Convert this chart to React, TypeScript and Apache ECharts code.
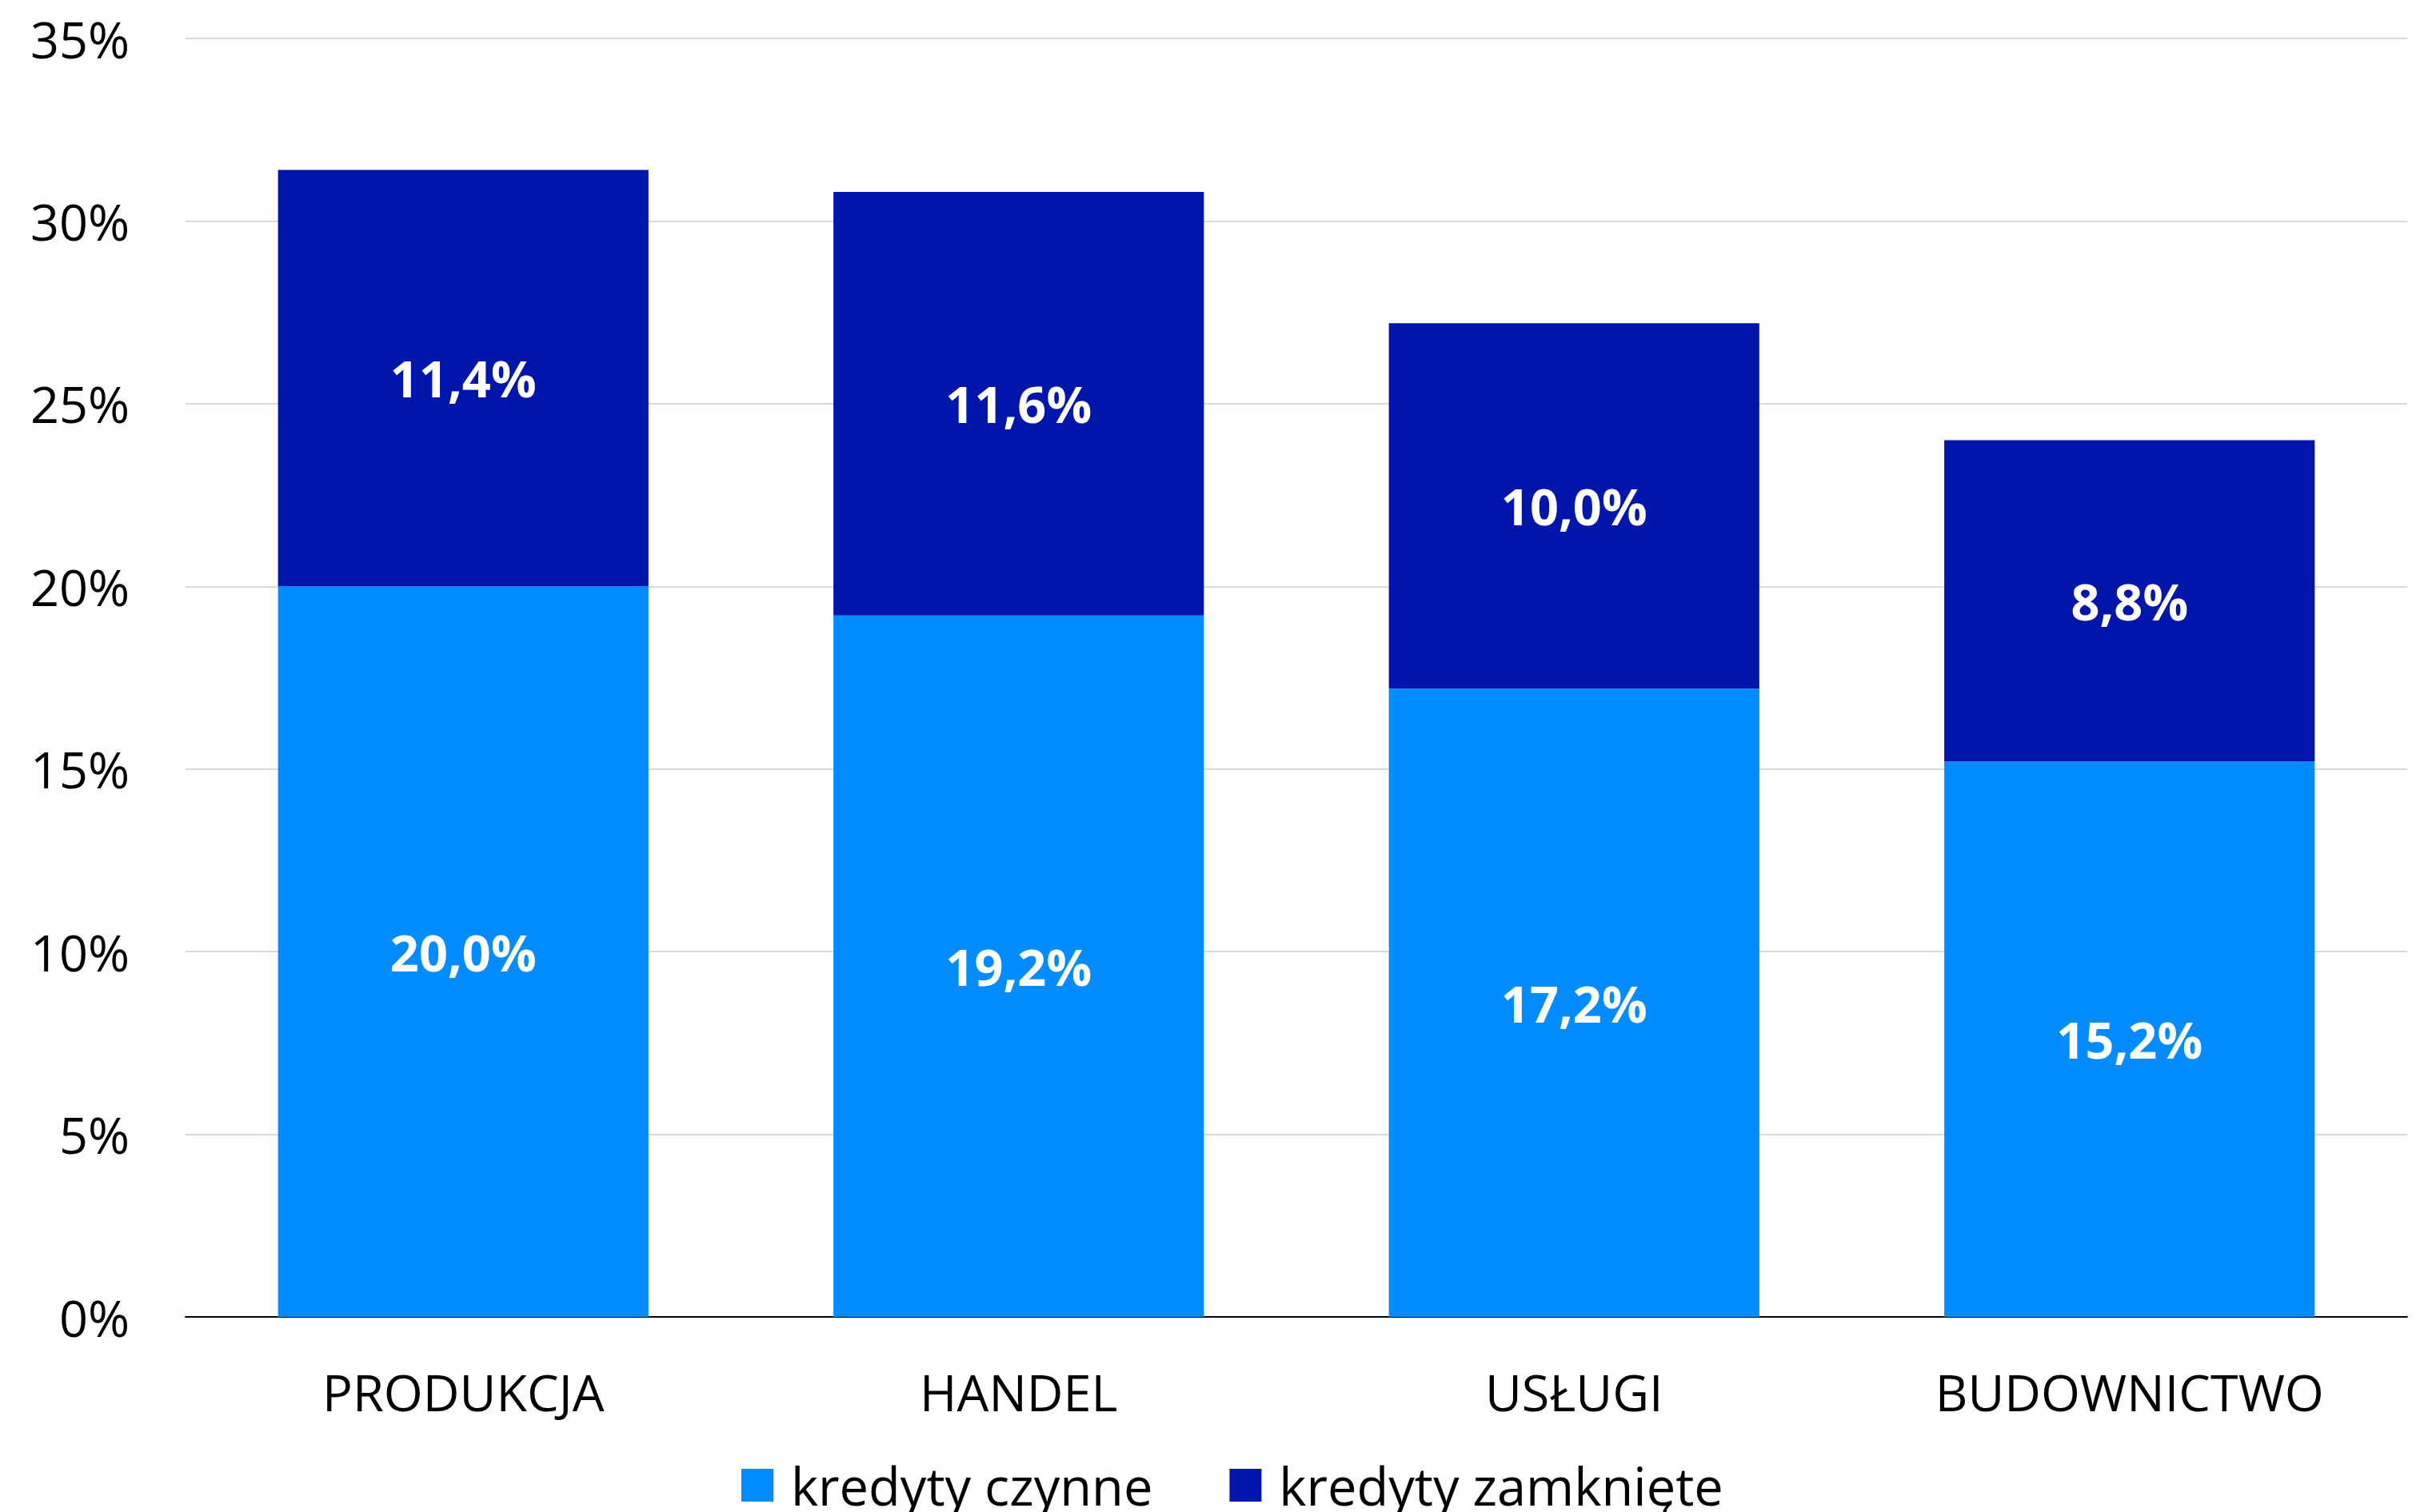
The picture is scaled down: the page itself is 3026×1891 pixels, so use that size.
import React, { useEffect, useRef } from "react";
import * as echarts from "echarts";

const categories = ["PRODUKCJA", "HANDEL", "USŁUGI", "BUDOWNICTWO"];
const activeLoans = [20.0, 19.2, 17.2, 15.2];
const closedLoans = [11.4, 11.6, 10.0, 8.8];
const seriesNames = ["kredyty czynne", "kredyty zamknięte"];
const colors = ["#028CFF", "#0015AA"];

const FONT = "'Open Sans', 'Noto Sans', sans-serif";

const fmt = (v: number) => v.toFixed(1).replace(".", ",") + "%";

export default function App() {
  const ref = useRef<HTMLDivElement>(null);
  useEffect(() => {
    if (!ref.current) return;
    const chart = echarts.init(ref.current, undefined, { renderer: "svg" });
    const label = {
      show: true,
      position: "inside" as const,
      color: "#fff",
      fontWeight: "bold" as const,
      fontSize: 63,
      fontFamily: FONT,
      formatter: (p: any) => fmt(p.value),
    };
    chart.setOption({
      animation: false,
      backgroundColor: "#fff",
      textStyle: { fontFamily: FONT },
      grid: { left: 232, top: 48, width: 2778, height: 1599, containLabel: false },
      legend: {
        left: 922,
        top: 1820,
        itemWidth: 40,
        itemHeight: 41,
        itemGap: 96,
        icon: "rect",
        formatter: (name: string) => " " + name,
        textStyle: {
          fontSize: 65,
          color: "#000",
          fontFamily: FONT,
          lineHeight: 41,
        },
        data: seriesNames,
      },
      xAxis: {
        type: "category",
        data: categories,
        axisTick: { show: false },
        axisLine: { lineStyle: { color: "#000", width: 2 } },
        axisLabel: { fontSize: 63, color: "#000", fontFamily: FONT, margin: 62 },
      },
      yAxis: {
        type: "value",
        min: 0,
        max: 35,
        interval: 5,
        axisLine: { show: false },
        axisTick: { show: false },
        splitLine: { lineStyle: { color: "#D9D9D9", width: 2 } },
        axisLabel: {
          fontSize: 63,
          color: "#000",
          fontFamily: FONT,
          margin: 70,
          formatter: "{value}%",
        },
      },
      series: [
        {
          name: seriesNames[0],
          type: "bar",
          stack: "total",
          barCategoryGap: "33.3%",
          data: activeLoans,
          itemStyle: { color: colors[0] },
          label,
        },
        {
          name: seriesNames[1],
          type: "bar",
          stack: "total",
          barCategoryGap: "33.3%",
          data: closedLoans,
          itemStyle: { color: colors[1] },
          label,
        },
      ],
    });
    return () => chart.dispose();
  }, []);
  return (
    <div
      ref={ref}
      style={{ position: "fixed", left: 0, top: 0, width: 3026, height: 1891 }}
    />
  );
}
